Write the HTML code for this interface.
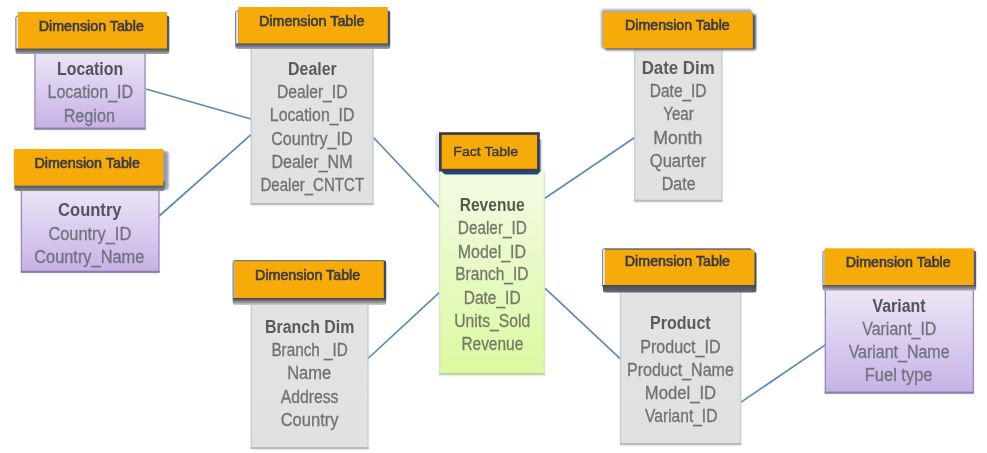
<!DOCTYPE html><html><head><meta charset="utf-8"><style>html,body{margin:0;padding:0;background:#fff;overflow:hidden}svg{display:block;will-change:transform}text{font-family:"Liberation Sans",sans-serif}</style></head><body>
<svg width="987" height="453" viewBox="0 0 987 453">
<defs>
<linearGradient id="gp" x1="0" y1="0" x2="0" y2="1"><stop offset="0" stop-color="#efe9f8"/><stop offset="1" stop-color="#c6b3e6"/></linearGradient>
<linearGradient id="gg" x1="0" y1="0" x2="0" y2="1"><stop offset="0" stop-color="#e3e3e3"/><stop offset="1" stop-color="#e1e1e1"/></linearGradient>
<linearGradient id="gf" x1="0" y1="0" x2="0" y2="1"><stop offset="0" stop-color="#f2fbe6"/><stop offset="1" stop-color="#dcf9a0"/></linearGradient>
<filter id="b07" x="-10%" y="-30%" width="120%" height="160%"><feGaussianBlur stdDeviation="0.7"/></filter>
<filter id="b08" x="-10%" y="-30%" width="120%" height="160%"><feGaussianBlur stdDeviation="0.8"/></filter>
<filter id="b13" x="-10%" y="-30%" width="120%" height="160%"><feGaussianBlur stdDeviation="1.3"/></filter>
<filter id="sh" x="-10%" y="-20%" width="130%" height="160%"><feDropShadow dx="2" dy="3" stdDeviation="1.2" flood-color="#000" flood-opacity="0.6"/></filter>
<filter id="shb" x="-10%" y="-10%" width="130%" height="130%"><feDropShadow dx="0.5" dy="1.5" stdDeviation="0.8" flood-color="#000" flood-opacity="0.3"/></filter>
</defs>
<rect width="987" height="453" fill="#fff"/>
<line x1="146" y1="89" x2="251" y2="119" stroke="#5e8ab5" stroke-width="1.7"/>
<line x1="159.2" y1="216" x2="251" y2="134.7" stroke="#5e8ab5" stroke-width="1.7"/>
<line x1="373.5" y1="137.5" x2="439.5" y2="207.5" stroke="#5e8ab5" stroke-width="1.7"/>
<line x1="368" y1="358.5" x2="439.5" y2="292.3" stroke="#5e8ab5" stroke-width="1.7"/>
<line x1="544.9" y1="198.2" x2="634.7" y2="137.5" stroke="#5e8ab5" stroke-width="1.7"/>
<line x1="544.9" y1="288.2" x2="620.1" y2="358.6" stroke="#5e8ab5" stroke-width="1.7"/>
<line x1="741.1" y1="402.1" x2="825.3" y2="344.9" stroke="#5e8ab5" stroke-width="1.7"/>
<rect x="34.8" y="46" width="110.4" height="84.3" fill="#000" opacity="0.12" filter="url(#b08)"/>
<rect x="34.3" y="46" width="111.4" height="83.5" fill="#9a8abb"/>
<rect x="34.3" y="127.5" width="111.4" height="2" fill="#8a7ca8"/>
<rect x="35.6" y="46" width="108.8" height="81.5" fill="url(#gp)"/>
<rect x="21.3" y="183" width="137.8" height="90.5" fill="#000" opacity="0.12" filter="url(#b08)"/>
<rect x="20.8" y="183" width="138.8" height="89.7" fill="#9a8abb"/>
<rect x="20.8" y="270.7" width="138.8" height="2" fill="#8a7ca8"/>
<rect x="22.1" y="183" width="136.2" height="87.7" fill="url(#gp)"/>
<rect x="251.1" y="42" width="122" height="163.7" fill="#000" opacity="0.12" filter="url(#b08)"/>
<rect x="250.6" y="42" width="123" height="162.9" fill="#c6ced4"/>
<rect x="250.6" y="202.9" width="123" height="2" fill="#b5bdbf"/>
<rect x="251.9" y="42" width="120.4" height="160.9" fill="url(#gg)"/>
<rect x="251.2" y="295" width="116.9" height="154.8" fill="#000" opacity="0.12" filter="url(#b08)"/>
<rect x="250.7" y="295" width="117.9" height="154" fill="#c6ced4"/>
<rect x="250.7" y="447" width="117.9" height="2" fill="#b5bdbf"/>
<rect x="252" y="295" width="115.3" height="152" fill="url(#gg)"/>
<rect x="439.5" y="171" width="105" height="204.8" fill="#000" opacity="0.12" filter="url(#b08)"/>
<rect x="439" y="171" width="106" height="204" fill="#d8ecbe"/>
<rect x="439" y="373" width="106" height="2" fill="#c2d49c"/>
<rect x="440.3" y="171" width="103.4" height="202" fill="url(#gf)"/>
<rect x="634.6" y="46" width="87.5" height="156.4" fill="#000" opacity="0.12" filter="url(#b08)"/>
<rect x="634.1" y="46" width="88.5" height="155.6" fill="#c6ced4"/>
<rect x="634.1" y="199.6" width="88.5" height="2" fill="#b5bdbf"/>
<rect x="635.4" y="46" width="85.9" height="153.6" fill="url(#gg)"/>
<rect x="620.4" y="284" width="120.3" height="161.8" fill="#000" opacity="0.12" filter="url(#b08)"/>
<rect x="619.9" y="284" width="121.3" height="161" fill="#c6ced4"/>
<rect x="619.9" y="443" width="121.3" height="2" fill="#b5bdbf"/>
<rect x="621.2" y="284" width="118.7" height="159" fill="url(#gg)"/>
<rect x="825.2" y="283" width="148.3" height="111.3" fill="#000" opacity="0.12" filter="url(#b08)"/>
<rect x="824.7" y="283" width="149.3" height="110.5" fill="#9a8abb"/>
<rect x="824.7" y="391.5" width="149.3" height="2" fill="#8a7ca8"/>
<rect x="826" y="283" width="146.7" height="108.5" fill="url(#gp)"/>
<linearGradient id="hs18_0" gradientUnits="userSpaceOnUse" x1="0" y1="49" x2="0" y2="54"><stop offset="0" stop-color="#4e5462"/><stop offset="1" stop-color="#a8a8ac"/></linearGradient>
<rect x="15.5" y="15.5" width="153.8" height="38.5" rx="2.5" fill="url(#hs18_0)" filter="url(#b07)"/>
<rect x="16.3" y="16.5" width="1.7" height="32" fill="#e6eaee"/>
<rect x="18" y="12" width="149" height="36.5" fill="#f7ab0b"/>
<text x="38.8" y="30.9" font-size="13.9" fill="#3a3a44" stroke="#3a3a44" stroke-width="0.6" textLength="105" lengthAdjust="spacingAndGlyphs">Dimension Table</text>
<linearGradient id="hs14_0" gradientUnits="userSpaceOnUse" x1="0" y1="186.1" x2="0" y2="190"><stop offset="0" stop-color="#9a9ca4"/><stop offset="1" stop-color="#9a9ca4"/></linearGradient>
<rect x="14.5" y="151" width="154" height="39" rx="2.5" fill="url(#hs14_0)" filter="url(#b13)"/>
<linearGradient id="hs14_1" gradientUnits="userSpaceOnUse" x1="0" y1="186.1" x2="0" y2="191"><stop offset="0" stop-color="#535a68"/><stop offset="1" stop-color="#8a8a8e"/></linearGradient>
<rect x="14.5" y="180" width="150" height="11" rx="2.5" fill="url(#hs14_1)" filter="url(#b07)"/>
<rect x="14" y="149" width="149.3" height="36.6" fill="#f7ab0b"/>
<text x="34.4" y="167.8" font-size="13.9" fill="#3a3a44" stroke="#3a3a44" stroke-width="0.6" textLength="105.6" lengthAdjust="spacingAndGlyphs">Dimension Table</text>
<linearGradient id="hs238_0" gradientUnits="userSpaceOnUse" x1="0" y1="43.9" x2="0" y2="49"><stop offset="0" stop-color="#4a505e"/><stop offset="1" stop-color="#a8a8ac"/></linearGradient>
<rect x="235.3" y="10.5" width="154.9" height="38.5" rx="2.5" fill="url(#hs238_0)" filter="url(#b07)"/>
<rect x="236.1" y="11.5" width="2.2" height="31.9" fill="#e6eaee"/>
<rect x="238.3" y="7" width="149.5" height="36.4" fill="#f7ab0b"/>
<text x="259" y="25.8" font-size="13.9" fill="#3a3a44" stroke="#3a3a44" stroke-width="0.6" textLength="105.4" lengthAdjust="spacingAndGlyphs">Dimension Table</text>
<linearGradient id="hs234_0" gradientUnits="userSpaceOnUse" x1="0" y1="298.5" x2="0" y2="305"><stop offset="0" stop-color="#48464c"/><stop offset="1" stop-color="#d0d0d0"/></linearGradient>
<rect x="232.7" y="260.2" width="153.5" height="44.8" rx="2.5" fill="url(#hs234_0)" filter="url(#b07)"/>
<rect x="233.5" y="261.2" width="1.2" height="36.8" fill="#e6eaee"/>
<rect x="234.7" y="261.1" width="149.1" height="36.9" fill="#f7ab0b"/>
<text x="255.1" y="280" font-size="13.9" fill="#3a3a44" stroke="#3a3a44" stroke-width="0.6" textLength="105.1" lengthAdjust="spacingAndGlyphs">Dimension Table</text>
<linearGradient id="hs603_0" gradientUnits="userSpaceOnUse" x1="0" y1="48.8" x2="0" y2="48.6"><stop offset="0" stop-color="#7a7e88"/><stop offset="1" stop-color="#a8a8ac"/></linearGradient>
<rect x="601.2" y="9.3" width="150.8" height="39.3" rx="2.5" fill="url(#hs603_0)" filter="url(#b08)"/>
<linearGradient id="hs603_1" gradientUnits="userSpaceOnUse" x1="0" y1="48.8" x2="0" y2="50.5"><stop offset="0" stop-color="#4e5462"/><stop offset="1" stop-color="#a8a8ac"/></linearGradient>
<rect x="605" y="14" width="151" height="36.5" rx="2.5" fill="url(#hs603_1)" filter="url(#b08)"/>
<rect x="603.2" y="12.2" width="149.6" height="36.1" fill="#f7ab0b"/>
<text x="625.1" y="29.6" font-size="13.9" fill="#3a3a44" stroke="#3a3a44" stroke-width="0.6" textLength="104.6" lengthAdjust="spacingAndGlyphs">Dimension Table</text>
<linearGradient id="hs604_0" gradientUnits="userSpaceOnUse" x1="0" y1="285.5" x2="0" y2="288"><stop offset="0" stop-color="#6a6e78"/><stop offset="1" stop-color="#a8a8ac"/></linearGradient>
<rect x="602" y="248.2" width="150" height="39.8" rx="2.5" fill="url(#hs604_0)" filter="url(#b07)"/>
<linearGradient id="hs604_1" gradientUnits="userSpaceOnUse" x1="0" y1="285.5" x2="0" y2="292.6"><stop offset="0" stop-color="#454a56"/><stop offset="1" stop-color="#6a6a70"/></linearGradient>
<rect x="603" y="252" width="153.5" height="40.6" rx="2.5" fill="url(#hs604_1)" filter="url(#b07)"/>
<rect x="602.8" y="249.2" width="2.1" height="35.8" fill="#e6eaee"/>
<rect x="604.9" y="249.9" width="149.6" height="35.1" fill="#f7ab0b"/>
<text x="624.8" y="265.8" font-size="13.9" fill="#3a3a44" stroke="#3a3a44" stroke-width="0.6" textLength="105.2" lengthAdjust="spacingAndGlyphs">Dimension Table</text>
<linearGradient id="hs824_0" gradientUnits="userSpaceOnUse" x1="0" y1="285.5" x2="0" y2="290.8"><stop offset="0" stop-color="#555a66"/><stop offset="1" stop-color="#b8b6c0"/></linearGradient>
<rect x="822.5" y="250.5" width="153.7" height="40.3" rx="2.5" fill="url(#hs824_0)" filter="url(#b07)"/>
<rect x="823.3" y="251.5" width="1.4" height="33.5" fill="#e6eaee"/>
<rect x="824.7" y="248.3" width="149.1" height="36.7" fill="#f7ab0b"/>
<text x="845.7" y="267" font-size="13.9" fill="#3a3a44" stroke="#3a3a44" stroke-width="0.6" textLength="105" lengthAdjust="spacingAndGlyphs">Dimension Table</text>
<rect x="435.5" y="134" width="4" height="38" fill="#dde2e8" filter="url(#b08)"/>
<rect x="539" y="139.6" width="2.3" height="32" fill="#8aa4c4"/>
<path d="M441.5 170 H540 V172 L537.5 174.6 H445 L442.5 172.5 Z" fill="#1c4a80"/>
<rect x="440.35" y="133.55" width="98.1" height="36.6" fill="#f7ab0b" stroke="#3a3d48" stroke-width="2.7"/>
<text x="453.3" y="155.9" font-size="13.4" fill="#3a3a44" stroke="#3a3a44" stroke-width="0.4" textLength="64.8" lengthAdjust="spacingAndGlyphs">Fact Table</text>
<text x="57.02" y="75.3" font-size="18" font-weight="bold" fill="#56525c" textLength="66.14" lengthAdjust="spacingAndGlyphs">Location</text>
<text x="47.48" y="98.2" font-size="18" fill="#75707e" stroke="#75707e" stroke-width="0.3" textLength="85.68" lengthAdjust="spacingAndGlyphs">Location_ID</text>
<text x="63.66" y="121.5" font-size="18" fill="#75707e" stroke="#75707e" stroke-width="0.3" textLength="51.24" lengthAdjust="spacingAndGlyphs">Region</text>
<text x="58.1" y="216.1" font-size="18" font-weight="bold" fill="#56525c" textLength="63.44" lengthAdjust="spacingAndGlyphs">Country</text>
<text x="48.38" y="239.5" font-size="18" fill="#75707e" stroke="#75707e" stroke-width="0.3" textLength="82.88" lengthAdjust="spacingAndGlyphs">Country_ID</text>
<text x="34.2" y="262.6" font-size="18" fill="#75707e" stroke="#75707e" stroke-width="0.3" textLength="110.16" lengthAdjust="spacingAndGlyphs">Country_Name</text>
<text x="288.1" y="74.8" font-size="18" font-weight="bold" fill="#5b5b5b" textLength="48.72" lengthAdjust="spacingAndGlyphs">Dealer</text>
<text x="277.02" y="98.4" font-size="18" fill="#717171" stroke="#717171" stroke-width="0.3" textLength="70.42" lengthAdjust="spacingAndGlyphs">Dealer_ID</text>
<text x="269.84" y="121.4" font-size="18" fill="#717171" stroke="#717171" stroke-width="0.3" textLength="84.52" lengthAdjust="spacingAndGlyphs">Location_ID</text>
<text x="271.28" y="144.7" font-size="18" fill="#717171" stroke="#717171" stroke-width="0.3" textLength="81.26" lengthAdjust="spacingAndGlyphs">Country_ID</text>
<text x="271.38" y="168.2" font-size="18" fill="#717171" stroke="#717171" stroke-width="0.3" textLength="81.14" lengthAdjust="spacingAndGlyphs">Dealer_NM</text>
<text x="260.48" y="191.1" font-size="18" fill="#717171" stroke="#717171" stroke-width="0.3" textLength="103.6" lengthAdjust="spacingAndGlyphs">Dealer_CNTCT</text>
<text x="265.1" y="332.5" font-size="18" font-weight="bold" fill="#5b5b5b" textLength="89.26" lengthAdjust="spacingAndGlyphs">Branch Dim</text>
<text x="271.38" y="355.7" font-size="18" fill="#717171" stroke="#717171" stroke-width="0.3" textLength="76.52" lengthAdjust="spacingAndGlyphs">Branch _ID</text>
<text x="287.2" y="379.4" font-size="18" fill="#717171" stroke="#717171" stroke-width="0.3" textLength="44.06" lengthAdjust="spacingAndGlyphs">Name</text>
<text x="280.64" y="402.9" font-size="18" fill="#717171" stroke="#717171" stroke-width="0.3" textLength="57.9" lengthAdjust="spacingAndGlyphs">Address</text>
<text x="280.64" y="426.2" font-size="18" fill="#717171" stroke="#717171" stroke-width="0.3" textLength="57.9" lengthAdjust="spacingAndGlyphs">Country</text>
<text x="459.74" y="210.8" font-size="18" font-weight="bold" fill="#555a4e" textLength="64.8" lengthAdjust="spacingAndGlyphs">Revenue</text>
<text x="457.84" y="234.4" font-size="18" fill="#737a68" stroke="#737a68" stroke-width="0.3" textLength="69.06" lengthAdjust="spacingAndGlyphs">Dealer_ID</text>
<text x="457.84" y="257.8" font-size="18" fill="#737a68" stroke="#737a68" stroke-width="0.3" textLength="68.16" lengthAdjust="spacingAndGlyphs">Model_ID</text>
<text x="455.3" y="280.3" font-size="18" fill="#737a68" stroke="#737a68" stroke-width="0.3" textLength="73.14" lengthAdjust="spacingAndGlyphs">Branch_ID</text>
<text x="463.74" y="304" font-size="18" fill="#737a68" stroke="#737a68" stroke-width="0.3" textLength="56.88" lengthAdjust="spacingAndGlyphs">Date_ID</text>
<text x="454.2" y="326.7" font-size="18" fill="#737a68" stroke="#737a68" stroke-width="0.3" textLength="76.14" lengthAdjust="spacingAndGlyphs">Units_Sold</text>
<text x="461.38" y="349.9" font-size="18" fill="#737a68" stroke="#737a68" stroke-width="0.3" textLength="61.88" lengthAdjust="spacingAndGlyphs">Revenue</text>
<text x="641.66" y="73.9" font-size="18" font-weight="bold" fill="#5b5b5b" textLength="73.06" lengthAdjust="spacingAndGlyphs">Date Dim</text>
<text x="649.84" y="97.2" font-size="18" fill="#717171" stroke="#717171" stroke-width="0.3" textLength="56.7" lengthAdjust="spacingAndGlyphs">Date_ID</text>
<text x="663.28" y="119.6" font-size="18" fill="#717171" stroke="#717171" stroke-width="0.3" textLength="30.54" lengthAdjust="spacingAndGlyphs">Year</text>
<text x="653.2" y="143.8" font-size="18" fill="#717171" stroke="#717171" stroke-width="0.3" textLength="49.06" lengthAdjust="spacingAndGlyphs">Month</text>
<text x="649.74" y="167.3" font-size="18" fill="#717171" stroke="#717171" stroke-width="0.3" textLength="56.26" lengthAdjust="spacingAndGlyphs">Quarter</text>
<text x="661.74" y="190.4" font-size="18" fill="#717171" stroke="#717171" stroke-width="0.3" textLength="33.8" lengthAdjust="spacingAndGlyphs">Date</text>
<text x="650.02" y="328.6" font-size="18" font-weight="bold" fill="#5b5b5b" textLength="60.7" lengthAdjust="spacingAndGlyphs">Product</text>
<text x="640.3" y="352.8" font-size="18" fill="#717171" stroke="#717171" stroke-width="0.3" textLength="80.24" lengthAdjust="spacingAndGlyphs">Product_ID</text>
<text x="627.02" y="375.8" font-size="18" fill="#717171" stroke="#717171" stroke-width="0.3" textLength="106.78" lengthAdjust="spacingAndGlyphs">Product_Name</text>
<text x="644.84" y="399" font-size="18" fill="#717171" stroke="#717171" stroke-width="0.3" textLength="71.24" lengthAdjust="spacingAndGlyphs">Model_ID</text>
<text x="645.1" y="422.2" font-size="18" fill="#717171" stroke="#717171" stroke-width="0.3" textLength="72.34" lengthAdjust="spacingAndGlyphs">Variant_ID</text>
<text x="872.54" y="312.1" font-size="18" font-weight="bold" fill="#56525c" textLength="52.92" lengthAdjust="spacingAndGlyphs">Variant</text>
<text x="862.28" y="335.2" font-size="18" fill="#75707e" stroke="#75707e" stroke-width="0.3" textLength="74.08" lengthAdjust="spacingAndGlyphs">Variant_ID</text>
<text x="848.64" y="358.2" font-size="18" fill="#75707e" stroke="#75707e" stroke-width="0.3" textLength="100.9" lengthAdjust="spacingAndGlyphs">Variant_Name</text>
<text x="864.84" y="380.5" font-size="18" fill="#75707e" stroke="#75707e" stroke-width="0.3" textLength="67.6" lengthAdjust="spacingAndGlyphs">Fuel type</text>
</svg></body></html>
